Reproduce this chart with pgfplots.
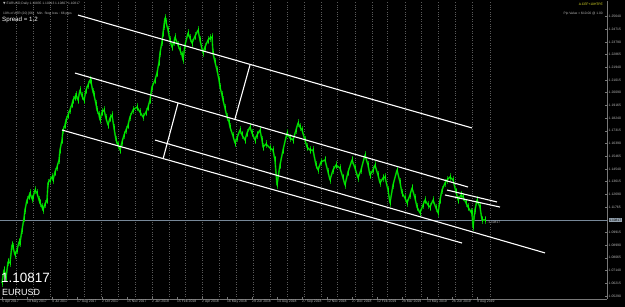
\documentclass[border=0pt]{standalone}
\usepackage{pgfplots}
\pgfplotsset{compat=1.18}
\usepackage{pgfplotstable}
\usepackage{fontspec}
\setmainfont{Liberation Sans}
\newfontfamily\dejavu{DejaVu Sans}
\definecolor{mtgreen}{RGB}{0,150,0}
\definecolor{mtlime}{RGB}{0,235,0}
\definecolor{mtgrid}{RGB}{120,120,120}
\definecolor{mtdot}{RGB}{90,90,90}
\definecolor{mttext}{RGB}{185,185,185}
\definecolor{mtyellow}{RGB}{230,230,40}
\definecolor{mtprice}{RGB}{119,136,153}

\pgfplotstableread{
bar price
0 1.0623
2.6 1.0718
5.1 1.0659
7.7 1.0776
10.2 1.0769
12.8 1.0900
14.1 1.0885
16.6 1.0827
19.2 1.0863
21.8 1.0922
23.0 1.0914
25.6 1.1009
28.2 1.1096
29.4 1.1155
32.0 1.1227
34.6 1.1256
35.8 1.1278
38.4 1.1235
39.7 1.1249
42.2 1.1300
44.8 1.1278
47.4 1.1227
48.6 1.1206
51.2 1.1176
52.5 1.1155
55.0 1.1198
57.6 1.1227
58.9 1.1351
61.4 1.1373
64.0 1.1395
65.3 1.1373
67.8 1.1431
70.4 1.1468
73.0 1.1519
74.2 1.1591
76.8 1.1664
78.1 1.1737
80.6 1.1773
81.9 1.1810
84.5 1.1846
87.0 1.1883
89.6 1.1926
90.9 1.1955
93.4 1.1977
94.7 1.1992
97.3 1.1955
99.8 1.2028
102.4 1.1984
105.0 1.1955
107.5 1.2028
110.1 1.2065
112.6 1.2101
113.9 1.2086
116.5 1.2014
117.8 1.1992
120.3 1.1926
121.6 1.1883
124.2 1.1846
125.4 1.1810
128.0 1.1868
130.6 1.1883
133.1 1.1824
135.7 1.1773
138.2 1.1824
140.8 1.1846
143.4 1.1751
145.9 1.1664
148.5 1.1628
151.0 1.1591
153.6 1.1650
156.2 1.1701
158.7 1.1737
161.3 1.1773
163.8 1.1832
167.7 1.1883
172.8 1.1904
176.6 1.1868
180.5 1.1832
184.3 1.1868
186.9 1.1904
189.4 1.1955
192.0 1.2050
195.8 1.2101
198.4 1.2152
201.0 1.2232
202.2 1.2298
204.8 1.2378
206.1 1.2443
207.4 1.2501
208.6 1.2552
209.9 1.2523
212.5 1.2465
215.0 1.2392
217.6 1.2341
220.2 1.2378
221.4 1.2414
225.3 1.2356
227.8 1.2319
230.4 1.2283
231.7 1.2247
234.2 1.2356
238.1 1.2443
240.6 1.2407
243.2 1.2370
247.0 1.2421
250.9 1.2465
253.4 1.2392
257.3 1.2298
259.8 1.2341
263.7 1.2392
266.2 1.2407
268.8 1.2414
270.1 1.2298
272.6 1.2232
275.2 1.2174
277.8 1.2101
279.0 1.2050
281.6 1.1992
282.9 1.1955
285.4 1.1897
288.0 1.1832
290.6 1.1795
291.8 1.1759
295.7 1.1693
298.2 1.1642
300.8 1.1679
304.6 1.1737
307.2 1.1701
311.0 1.1664
313.6 1.1715
317.4 1.1759
320.0 1.1715
323.8 1.1664
326.4 1.1701
330.2 1.1737
332.8 1.1664
334.1 1.1613
337.9 1.1635
343.0 1.1606
346.9 1.1591
349.4 1.1519
352.0 1.1337
355.8 1.1482
359.7 1.1591
364.8 1.1715
368.6 1.1679
372.5 1.1664
376.3 1.1737
378.9 1.1788
381.4 1.1759
384.0 1.1737
387.8 1.1664
390.4 1.1613
394.2 1.1591
398.1 1.1591
401.9 1.1482
404.5 1.1446
408.3 1.1504
413.4 1.1519
417.3 1.1431
419.8 1.1373
423.7 1.1446
427.5 1.1482
432.6 1.1460
436.5 1.1388
439.0 1.1337
442.9 1.1431
448.0 1.1519
451.8 1.1460
455.7 1.1388
459.5 1.1446
464.6 1.1555
468.5 1.1482
471.0 1.1409
474.9 1.1446
477.4 1.1482
481.3 1.1409
483.8 1.1351
487.7 1.1388
490.2 1.1395
494.1 1.1300
496.6 1.1206
500.5 1.1337
505.6 1.1446
509.4 1.1358
512.0 1.1278
515.8 1.1242
518.4 1.1206
522.2 1.1264
524.8 1.1315
528.6 1.1242
531.2 1.1176
535.0 1.1133
538.9 1.1191
541.4 1.1227
545.3 1.1191
547.8 1.1176
551.7 1.1227
555.5 1.1169
558.1 1.1133
560.6 1.1227
563.2 1.1300
567.0 1.1351
569.6 1.1373
573.4 1.1395
577.3 1.1373
581.1 1.1286
583.7 1.1227
587.5 1.1264
590.1 1.1249
593.9 1.1206
596.5 1.1176
600.3 1.1140
601.6 1.1133
602.9 1.1031
605.4 1.1155
608.0 1.1227
611.8 1.1176
614.4 1.1082
618.2 1.1082
}\pricedata

\begin{document}
\begin{tikzpicture}
\fill[black] (0bp,0bp) rectangle (625bp,307bp);
\useasboundingbox (0bp,0bp) rectangle (625bp,307bp);
\begin{axis}[
  at={(0bp,8bp)}, anchor=south west,
  width=607bp, height=298bp, scale only axis,
  xmin=-2.56, xmax=774.4, ymin=1.05063, ymax=1.26767,
  axis x line*=bottom, axis y line*=right,
  axis line style={mtgrid, line width=0.6pt},
  clip=true,
  xtick={0,32,...,608},
  xticklabels={5 Apr 2017,19 May 2017,4 Jul 2017,17 Aug 2017,2 Oct 2017,15 Nov 2017,2 Jan 2018,15 Feb 2018,2 Apr 2018,16 May 2018,29 Jun 2018,14 Aug 2018,27 Sep 2018,12 Nov 2018,27 Dec 2018,12 Feb 2019,28 Mar 2019,13 May 2019,26 Jun 2019,9 Aug 2019},
  xticklabel style={anchor=north west, inner sep=0.5bp, xshift=-0.5bp, text=mttext, font=\fontsize{3.4}{3.7}\selectfont},
  ytick={1.05290,1.06215,1.07140,1.08065,1.08990,1.09915,1.11765,1.12690,1.13615,1.14540,1.15465,1.16390,1.17315,1.18240,1.19165,1.20090,1.21015,1.21940,1.22865,1.23790,1.24715,1.25640},
  yticklabels={1.05290,1.06215,1.07140,1.08065,1.08990,1.09915,1.11765,1.12690,1.13615,1.14540,1.15465,1.16390,1.17315,1.18240,1.19165,1.20090,1.21015,1.21940,1.22865,1.23790,1.24715,1.25640},
  yticklabel style={anchor=west, inner sep=0.5bp, xshift=1bp, text=mttext, font=\fontsize{3.4}{3.7}\selectfont},
  major tick length=2bp,
  tick style={mtgrid, line width=0.5pt},
  extra x ticks={18.5,40.5,61.8,83.8,105.8,127.1,149.2,170.5,192.5,214.5,234.4,256.4,277.7,299.7,321.1,343.1,365.1,386.4,408.4,429.7,451.8,473.8,493.7,515.7,537.0,559.0,580.3,602.3,624.4},
  extra x tick labels={},
  extra x tick style={grid=major, major grid style={mtdot, dotted, line width=0.5pt}, major tick length=0pt},
]
% current price line
\addplot[mtprice, line width=0.6pt] coordinates {(-3,1.10817) (776,1.10817)};
% price: daily ranges
\addplot[draw=none, mark=none, forget plot, error bars/.cd, y dir=both, y fixed=0.0032, error mark=none,
  error bar style={mtgreen, line width=0.9pt}] table[x=bar,y=price] {\pricedata};
\addplot[mtgreen, line width=1.6pt, line join=round] table[x=bar,y=price] {\pricedata};
\addplot[mtlime, line width=0.7pt, line join=round] table[x=bar,y=price] {\pricedata};
\addplot[draw=none, mark=none, forget plot, error bars/.cd, y dir=both, y fixed=0.0018, error mark=none,
  error bar style={mtlime, line width=0.5pt}] table[x=bar,y=price] {\pricedata};
% trend lines
\addplot[white, line width=1.1pt] coordinates {(97.3,1.2574) (601.6,1.1752)};
\addplot[white, line width=1.1pt] coordinates {(93.4,1.2152) (596.5,1.1322)};
\addplot[white, line width=1.1pt] coordinates {(76.8,1.1737) (588.8,1.0914)};
\addplot[white, line width=1.1pt] coordinates {(195.8,1.1664) (695.0,1.0842)};
\addplot[white, line width=1.1pt] coordinates {(298.2,1.1817) (317.4,1.2210)};
\addplot[white, line width=1.1pt] coordinates {(206.1,1.1526) (225.3,1.1933)};
\addplot[white, line width=1.1pt] coordinates {(569.6,1.1300) (633.6,1.1213)};
\addplot[white, line width=1.1pt] coordinates {(567.0,1.1264) (637.4,1.1176)};
\end{axis}
% texts
\node[anchor=north west, inner sep=0pt, text=mttext, font=\fontsize{3.3}{3.6}\selectfont] at (3bp,305bp) {{\dejavu ▼} EURUSD,Daily 1.10835 1.10913 1.10807 1.10817};
\node[anchor=north west, inner sep=0pt, text=mttext, font=\fontsize{3.3}{3.6}\selectfont] at (3bp,295.5bp) {10\% of ATR (20) [66]\quad Min. Stop loss : 66 pips};
\node[anchor=north west, inner sep=0pt, text=white, font=\fontsize{6.2}{7}\selectfont] at (2bp,290bp) {Spread = 1.2};
\node[anchor=north east, inner sep=0pt, text=mtyellow, font=\fontsize{3.3}{3.6}\selectfont] at (603bp,304bp) {A.CEF+10HTPE};
\node[anchor=north east, inner sep=0pt, text=mttext, font=\fontsize{3.3}{3.6}\selectfont] at (603bp,295bp) {Pip Value = \$10.00 @ 1.00};
\node[anchor=south west, inner sep=0pt, text=white, font=\fontsize{13.5}{15}\selectfont] at (1bp,24bp) {1.10817};
\node[anchor=south west, inner sep=0pt, text=white, font=\fontsize{9}{10}\selectfont] at (2bp,11bp) {EURUSD};
\node[anchor=west, inner sep=0.6bp, fill=mtprice!80!white, text=black, font=\fontsize{3.3}{3.6}\selectfont] at (608.5bp,87bp) {1.10817};
\node[anchor=west, inner sep=0pt, text=mttext, font=\fontsize{3.3}{3.6}\selectfont] at (487bp,85bp) {\textperiodcentered 1.10817};
\end{tikzpicture}
\end{document}
